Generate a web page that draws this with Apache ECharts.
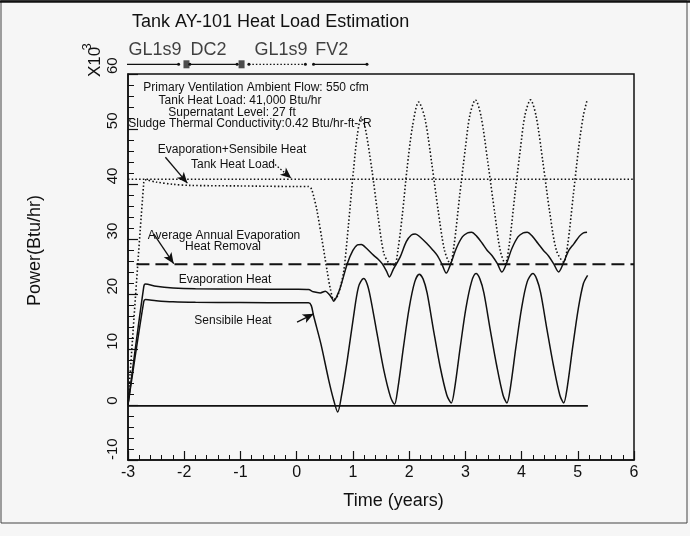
<!DOCTYPE html>
<html><head><meta charset="utf-8">
<script src="https://cdn.jsdelivr.net/npm/echarts@6/dist/echarts.min.js"></script>
<style>html,body{margin:0;padding:0;background:#f6f6f6}#c{width:690px;height:536px}</style>
</head><body><div id="c"></div>
<script>
// ---------------- data ----------------
const xMin = -3, xMax = 6, xStep = 1;
const yMin = -10, yMax = 60, yStep = 10;

const tankHeatLoad = [[-3, 40.9], [6, 40.9]];
const avgEvapRemoval = [[-2.85, 25.5], [6, 25.5]];
const baseLine = [[-3, -0.2], [5.18, -0.2]];

const evapPlusSensible = [
 [-3.00,0.0],[-2.72,40.3],[-2.69,40.8],[-2.50,40.4],[-2.20,40.0],[-1.90,39.8],[-1.00,39.7],[0.00,39.6],[0.21,39.6],[0.26,39.2],[0.30,37.9],[0.36,35.3],[0.45,30.0],[0.54,24.4],[0.60,21.0],[0.66,19.1],[0.72,19.6],[0.78,21.5],[0.84,24.4],[0.92,32.5],[1.01,42.5],[1.08,49.0],[1.15,52.2],[1.22,50.2],[1.34,42.5],[1.45,34.0],[1.55,27.5],[1.65,25.6],[1.74,25.3],[1.80,28.0],[1.88,34.5],[1.96,42.5],[2.06,50.5],[2.17,54.9],[2.28,52.0],[2.40,44.0],[2.52,35.0],[2.63,28.0],[2.73,25.6],[2.80,29.0],[2.90,38.0],[3.00,46.5],[3.08,52.5],[3.18,55.3],[3.28,52.3],[3.40,44.0],[3.52,35.0],[3.62,28.0],[3.71,25.6],[3.78,29.0],[3.88,38.0],[3.98,46.5],[4.06,52.5],[4.16,55.3],[4.26,52.3],[4.38,44.0],[4.50,35.0],[4.62,28.0],[4.75,25.9],[4.82,29.0],[4.92,38.0],[5.02,47.0],[5.10,52.5],[5.165,55.2]
];
const evaporationHeat = [
 [-3.00,0.0],[-2.72,21.4],[-2.69,21.9],[-2.50,21.5],[-2.20,21.2],[-1.80,21.05],[-1.00,21.0],[0.00,20.95],[0.21,20.9],[0.30,20.5],[0.42,20.3],[0.51,20.6],[0.58,20.0],[0.63,19.3],[0.66,18.8],[0.72,19.8],[0.78,21.4],[0.90,25.6],[1.00,28.0],[1.08,29.0],[1.15,29.1],[1.25,28.3],[1.37,27.1],[1.45,26.4],[1.52,25.6],[1.60,24.2],[1.65,23.2],[1.72,24.6],[1.84,26.8],[1.95,29.6],[2.04,30.8],[2.11,31.0],[2.20,30.4],[2.32,29.2],[2.42,28.1],[2.50,27.1],[2.58,25.6],[2.66,23.9],[2.74,25.6],[2.84,28.4],[2.95,30.5],[3.04,31.2],[3.11,31.3],[3.20,30.6],[3.30,29.3],[3.39,28.0],[3.48,27.0],[3.57,25.6],[3.65,24.1],[3.73,25.6],[3.83,28.4],[3.94,30.5],[4.03,31.2],[4.10,31.3],[4.19,30.6],[4.29,29.3],[4.39,28.0],[4.48,27.0],[4.57,25.6],[4.66,24.1],[4.74,25.6],[4.84,28.0],[4.93,29.2],[5.03,30.6],[5.10,31.2],[5.165,31.3]
];
const sensibleHeat = [
 [-3.00,0.0],[-2.72,18.7],[-2.69,19.1],[-2.50,18.9],[-2.20,18.7],[-1.80,18.6],[-1.00,18.55],[0.00,18.5],[0.21,18.5],[0.26,18.0],[0.30,16.2],[0.43,11.1],[0.57,4.5],[0.66,0.8],[0.73,-1.3],[0.80,1.8],[0.90,8.1],[1.01,15.9],[1.10,21.4],[1.19,22.9],[1.25,22.0],[1.31,19.6],[1.43,12.9],[1.55,6.3],[1.67,1.4],[1.74,0.1],[1.80,3.0],[1.90,10.5],[2.00,17.5],[2.10,22.3],[2.18,23.7],[2.25,22.8],[2.32,20.3],[2.43,13.8],[2.55,7.0],[2.67,1.8],[2.75,0.35],[2.81,3.0],[2.91,10.5],[3.01,17.5],[3.11,22.3],[3.19,23.8],[3.26,22.8],[3.33,20.3],[3.44,13.8],[3.56,7.0],[3.67,1.8],[3.74,0.35],[3.80,3.0],[3.90,10.5],[4.00,17.5],[4.10,22.3],[4.20,23.8],[4.27,22.8],[4.34,20.3],[4.45,13.8],[4.57,7.0],[4.68,1.8],[4.75,0.35],[4.81,3.0],[4.91,10.5],[5.01,17.5],[5.10,22.0],[5.175,23.5]
];

// timeline above the plot (operating modes)
const modeLabels = ['GL1s9', 'DC2', 'GL1s9', 'FV2'];
const modeLabelX = [-2.99, -1.89, -0.75, 0.33];
const modeStart = [-3.05, -1.90, -0.85, 0.30];
const modeEnd = [-2.10, -1.06, 0.155, 1.25];
const modeSwitchX = [-1.96, -0.98];

// annotation arrows [fromX, fromY, toX, toY]
const arrowEvapSens = [-2.335, 44.9, -1.944, 40.2];
const arrowTankLoad = [-0.432, 44.0, -0.096, 41.1];
const arrowAvgEvap = [-2.543, 31.0, -2.187, 25.6];
const arrowSensible = [0.007, 15.0, 0.303, 16.5];

// ---------------- chart ----------------
const FONT = 'Liberation Sans, Arial, Helvetica, sans-serif';
const INK = '#111';
const chart = echarts.init(document.getElementById('c'), null, {renderer: 'canvas'});

function arrowLine(a, dotted) {
  return {
    silent: true, symbol: ['none', 'arrow'], symbolSize: [7, 11],
    label: {show: false},
    lineStyle: {color: INK, width: 1.3, type: dotted ? [1.5, 2] : 'solid'},
    data: [[{coord: [a[0], a[1]]}, {coord: [a[2], a[3]]}]]
  };
}
const dotted = [1.5, 2.2];
const lineBase = {type: 'line', xAxisIndex: 0, yAxisIndex: 0, symbol: 'none', silent: true};

const series = [
  Object.assign({}, lineBase, {name: 'Tank Heat Load', data: tankHeatLoad, lineStyle: {color: INK, width: 1.6, type: dotted}, markLine: arrowLine(arrowTankLoad, true)}),
  Object.assign({}, lineBase, {name: 'Evaporation+Sensibile Heat', data: evapPlusSensible, smooth: 0.3, lineStyle: {color: INK, width: 1.6, type: dotted}, markLine: arrowLine(arrowEvapSens, false)}),
  Object.assign({}, lineBase, {name: 'Average Annual Evaporation Heat Removal', data: avgEvapRemoval, lineStyle: {color: INK, width: 1.8, type: [13, 6]}, markLine: arrowLine(arrowAvgEvap, false)}),
  Object.assign({}, lineBase, {name: 'Evaporation Heat', data: evaporationHeat, smooth: 0.3, lineStyle: {color: INK, width: 1.5}}),
  Object.assign({}, lineBase, {name: 'Sensibile Heat', data: sensibleHeat, smooth: 0.3, lineStyle: {color: INK, width: 1.5}, markLine: arrowLine(arrowSensible, false)}),
  Object.assign({}, lineBase, {name: 'base', data: baseLine, lineStyle: {color: INK, width: 1.8}})
];

// timeline segments
const segY = 5.7, labY = 20.4;
modeStart.forEach((s, i) => {
  series.push({
    type: 'line', xAxisIndex: 1, yAxisIndex: 1, silent: true,
    data: [[s, segY], [modeEnd[i], segY]],
    symbol: 'circle', symbolSize: 3, itemStyle: {color: INK},
    lineStyle: {color: INK, width: 1.2, type: i === 2 ? [1.5, 2] : 'solid'}
  });
});
series.push({
  type: 'scatter', xAxisIndex: 1, yAxisIndex: 1, silent: true,
  data: modeSwitchX.map(x => [x, segY]),
  symbol: 'rect', symbolSize: [6, 8], itemStyle: {color: '#222'}
});
series.push({
  type: 'scatter', xAxisIndex: 1, yAxisIndex: 1, silent: true,
  data: modeLabels.map((n, i) => ({name: n, value: [modeLabelX[i], labY]})),
  symbolSize: 0,
  label: {show: true, position: 'right', distance: 0, formatter: '{b}', fontSize: 18, fontFamily: FONT, color: INK}
});

function txt(x, y, s, size) {
  return {type: 'text', x: x, y: y, silent: true,
    style: {text: s, fill: INK, font: (size || 12) + 'px ' + FONT, textAlign: 'center', textVerticalAlign: 'middle'}};
}

const option = {
  animation: false,
  backgroundColor: '#f6f6f6',
  title: {text: 'Tank AY-101 Heat Load Estimation', left: 132, top: 13, padding: 0,
    textStyle: {fontSize: 18, fontWeight: 'normal', color: INK, fontFamily: FONT}},
  grid: [
    {left: 128, right: 56, top: 74, bottom: 76, show: true, borderColor: INK, borderWidth: 1.5, backgroundColor: 'transparent'},
    {left: 128, right: 56, top: 40, height: 30}
  ],
  xAxis: [
    {gridIndex: 0, type: 'value', min: xMin, max: xMax, interval: xStep,
      axisLine: {onZero: false, lineStyle: {color: INK, width: 1.5}},
      axisTick: {inside: true, length: 9, lineStyle: {color: INK, width: 1.2}},
      minorTick: {show: true, splitNumber: 5, length: 5, lineStyle: {color: INK, width: 1}},
      splitLine: {show: false},
      axisLabel: {fontSize: 16, color: INK, fontFamily: FONT, margin: 5},
      name: 'Time (years)', nameLocation: 'middle', nameGap: 32,
      nameTextStyle: {fontSize: 18, color: INK, fontFamily: FONT, padding: [0, 0, 0, 25]}},
    {gridIndex: 1, type: 'value', min: xMin, max: xMax, show: false}
  ],
  yAxis: [
    {gridIndex: 0, type: 'value', min: yMin, max: yMax, interval: yStep,
      axisLine: {onZero: false, lineStyle: {color: INK, width: 1.5}},
      axisTick: {inside: true, length: 10, lineStyle: {color: INK, width: 1.2}},
      minorTick: {show: true, splitNumber: 5, length: 6, lineStyle: {color: INK, width: 1}},
      splitLine: {show: false},
      axisLabel: {fontSize: 15, color: INK, fontFamily: FONT, rotate: 90, align: 'left', margin: 8},
      name: 'Power(Btu/hr)', nameLocation: 'middle', nameGap: 84,
      nameTextStyle: {fontSize: 18, color: INK, fontFamily: FONT, padding: [0, 0, 0, 33]}},
    {gridIndex: 1, type: 'value', min: 0, max: 30, show: false}
  ],
  graphic: [
    {type: 'rect', silent: true, shape: {x: 1, y: 1, width: 686, height: 522},
      style: {fill: 'none', stroke: '#444', lineWidth: 1}},
    {type: 'line', silent: true, shape: {x1: 0, y1: 1.5, x2: 690, y2: 1.5},
      style: {stroke: '#111', lineWidth: 2.5}},
    {type: 'text', x: 95, y: 62, rotation: Math.PI / 2, silent: true,
      style: {text: 'X10', fill: INK, font: '17px ' + FONT, textAlign: 'center', textVerticalAlign: 'middle'}},
    {type: 'text', x: 87, y: 47, rotation: Math.PI / 2, silent: true,
      style: {text: '3', fill: INK, font: '13px ' + FONT, textAlign: 'center', textVerticalAlign: 'middle'}},
    txt(256, 88, 'Primary Ventilation Ambient Flow: 550 cfm'),
    txt(240, 101, 'Tank Heat Load: 41,000 Btu/hr'),
    txt(232, 113, 'Supernatant Level: 27 ft'),
    txt(250, 124, 'Sludge Thermal Conductivity:0.42 Btu/hr-ft-°R'),
    txt(232, 149.5, 'Evaporation+Sensibile Heat'),
    txt(233, 165, 'Tank Heat Load'),
    txt(224, 236, 'Average Annual Evaporation'),
    txt(223, 247, 'Heat Removal'),
    txt(225, 280, 'Evaporation Heat'),
    txt(233, 321, 'Sensibile Heat')
  ],
  series: series
};
chart.setOption(option);
</script></body></html>
